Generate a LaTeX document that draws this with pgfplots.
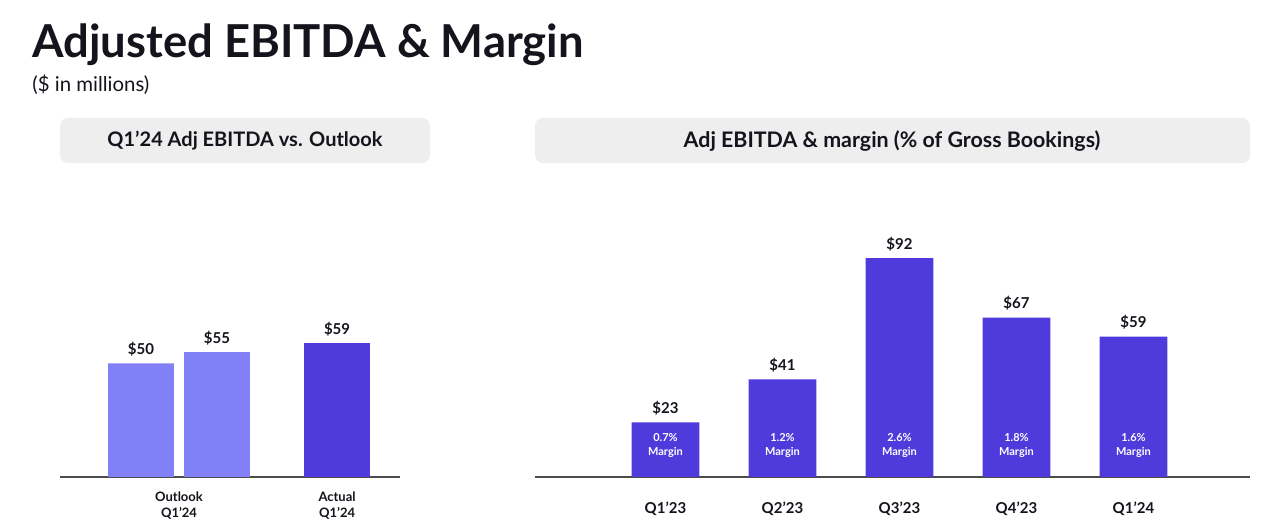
\documentclass[border=0pt]{standalone}
\usepackage{fontspec}
\setmainfont{Lato}
\usepackage{pgfplots}
\pgfplotsset{compat=1.18}
\definecolor{lightbar}{RGB}{130,128,247}
\definecolor{darkbar}{RGB}{79,58,219}
\definecolor{hdr}{RGB}{238,238,238}
\definecolor{txt}{RGB}{20,20,28}
\begin{document}
\begin{tikzpicture}
\fill[white] (0pt,0pt) rectangle (640pt,263pt);
\node[anchor=base west, inner sep=0, text=txt, font=\bfseries\fontsize{22.7}{27}\selectfont] at (16pt,234pt) {Adjusted EBITDA \& Margin};
\node[anchor=base west, inner sep=0, text=txt, font=\fontsize{10.2}{12}\selectfont] at (16pt,217pt) {(\$ in millions)};
\fill[hdr, rounded corners=4pt] (30pt,181.5pt) rectangle (215pt,204pt);
\node[text=txt, font=\bfseries\fontsize{10}{12}\selectfont] at (122.5pt,192.5pt) {Q1’24 Adj EBITDA vs. Outlook};
\fill[hdr, rounded corners=4pt] (267.5pt,181.5pt) rectangle (625pt,204pt);
\node[text=txt, font=\bfseries\fontsize{10.7}{12}\selectfont] at (446pt,192.5pt) {Adj EBITDA \& margin (\% of Gross Bookings)};

\begin{axis}[at={(30pt,24.5pt)}, anchor=south west, scale only axis,
  width=170pt, height=148.5pt,
  xmin=-1.066, xmax=3.408, ymin=0, ymax=130.8,
  axis x line=bottom, axis y line=none,
  x axis line style={-, draw=black!70, line width=0.7pt},
  ytick=\empty, xtick={0.5,2.58}, major tick length=0,
  xticklabels={{Outlook\\Q1’24},{Actual\\Q1’24}},
  xticklabel style={align=center, text=txt, font=\bfseries\fontsize{6.5}{8}\selectfont, yshift=-4pt},
  /pgf/number format/assume math mode=true,
  nodes near coords={\$\pgfmathprintnumber{\pgfplotspointmeta}},
  nodes near coords style={text=txt, font=\bfseries\fontsize{7.5}{9}\selectfont},
  clip=false]
\addplot[ybar, bar shift=0pt, bar width=0.868, fill=lightbar, draw=none] coordinates {(0,50) (1,55)};
\addplot[ybar, bar shift=0pt, bar width=0.868, fill=darkbar, draw=none] coordinates {(2.58,59)};
\end{axis}

\begin{axis}[at={(267.5pt,24.5pt)}, anchor=south west, scale only axis,
  width=357.5pt, height=148.5pt,
  xmin=-1.115, xmax=4.996, ymin=0, ymax=124.8,
  axis x line=bottom, axis y line=none,
  x axis line style={-, draw=black!70, line width=0.7pt},
  ytick=\empty, xtick={0,1,2,3,4}, major tick length=0,
  xticklabels={Q1’23,Q2’23,Q3’23,Q4’23,Q1’24},
  xticklabel style={text=txt, font=\bfseries\fontsize{7.5}{9}\selectfont, yshift=-9pt},
  /pgf/number format/assume math mode=true,
  clip=false]
\addplot[ybar, bar shift=0pt, bar width=0.58, fill=darkbar, draw=none,
  nodes near coords={\$\pgfmathprintnumber{\pgfplotspointmeta}},
  nodes near coords style={text=txt, font=\bfseries\fontsize{7.5}{9}\selectfont}]
  coordinates {(0,23) (1,41) (2,92) (3,67) (4,59)};
\addplot[ybar, bar shift=0pt, bar width=0.58, draw=none, fill=none,
  point meta=explicit symbolic,
  nodes near coords={\pgfplotspointmeta\\Margin},
  nodes near coords style={anchor=center, align=center, text=white, font=\bfseries\fontsize{5.5}{7}\selectfont}]
  coordinates {(0,13.4) [0.7\%] (1,13.4) [1.2\%] (2,13.4) [2.6\%] (3,13.4) [1.8\%] (4,13.4) [1.6\%]};
\end{axis}
\end{tikzpicture}
\end{document}
